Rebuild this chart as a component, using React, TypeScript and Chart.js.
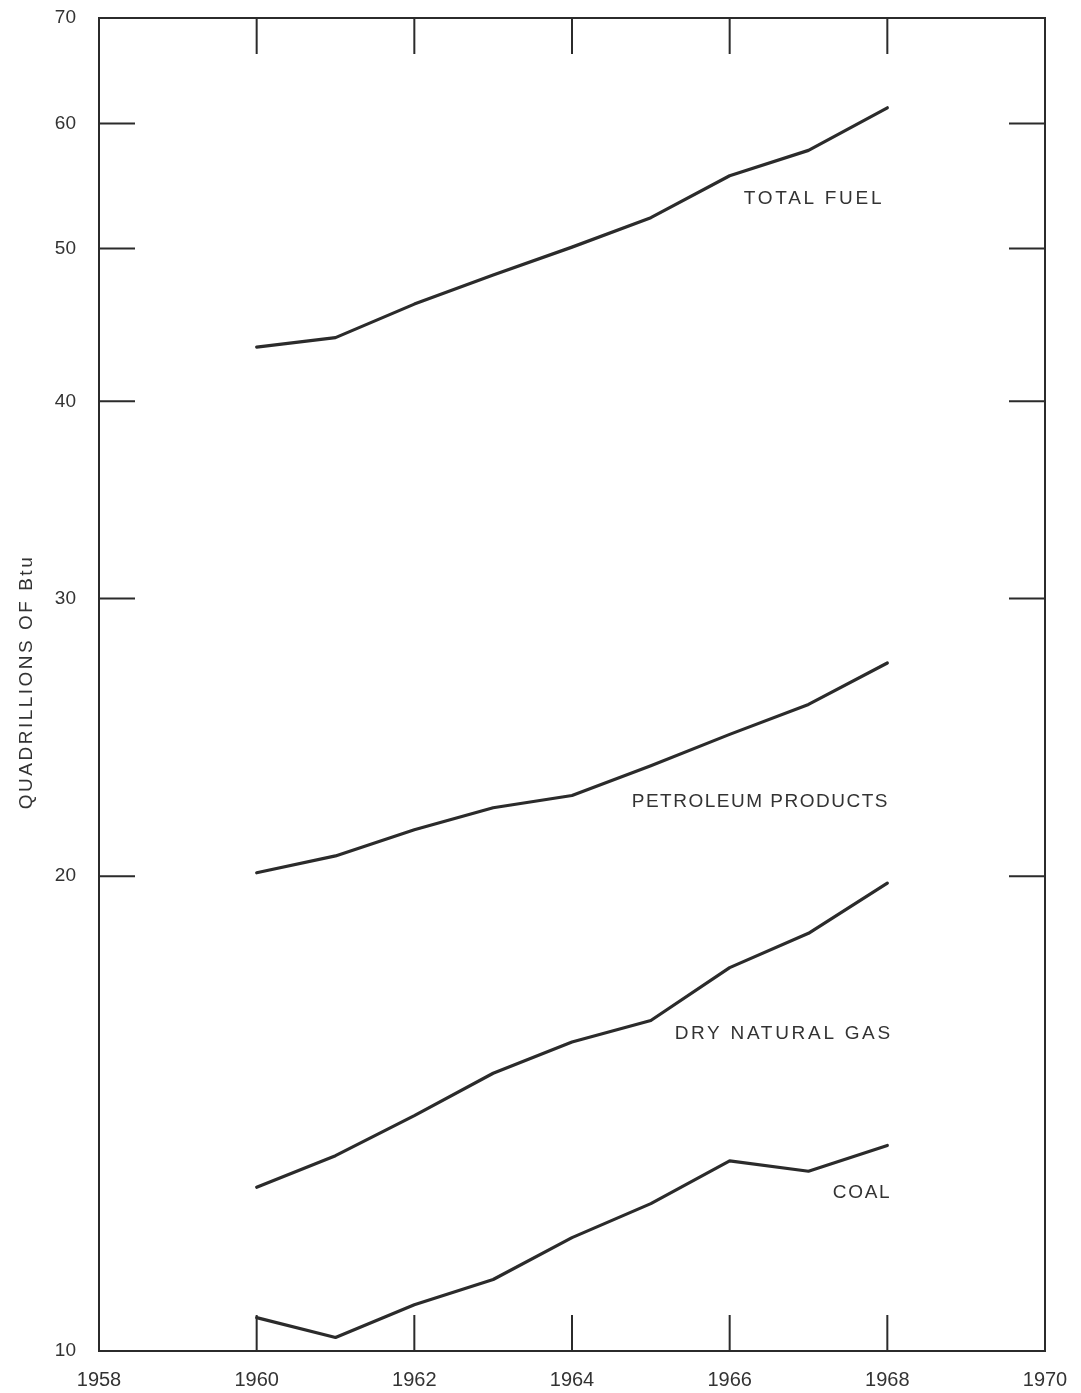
import React, { useEffect, useRef } from "react";
import { Chart, registerables } from "chart.js";

Chart.register(...registerables);

// ---- data ----
const years = [1960, 1961, 1962, 1963, 1964, 1965, 1966, 1967, 1968];
const totalFuel = [43.3, 43.9, 46.1, 48.1, 50.1, 52.3, 55.6, 57.7, 61.4];
const petroleum = [20.1, 20.6, 21.4, 22.1, 22.5, 23.5, 24.6, 25.7, 27.3];
const naturalGas = [12.7, 13.3, 14.1, 15.0, 15.7, 16.2, 17.5, 18.4, 19.8];
const coal = [10.5, 10.2, 10.7, 11.1, 11.8, 12.4, 13.2, 13.0, 13.5];

const seriesNames = ["TOTAL FUEL", "PETROLEUM PRODUCTS", "DRY NATURAL GAS", "COAL"];
const seriesLabelYear = [1967.96, 1968.02, 1968.07, 1968.05];
const seriesLabelValue = [53.8, 22.3, 15.9, 12.6];

const xTickLabels = [1958, 1960, 1962, 1964, 1966, 1968, 1970];
const xInnerTicks = [1960, 1962, 1964, 1966, 1968];
const yTickLabels = [10, 20, 30, 40, 50, 60, 70];
const yInnerTicks = [20, 30, 40, 50, 60];
const yTitle = "QUADRILLIONS OF Btu";

const INK = "#2b2b2b";
const TEXT = "#333333";
const FONT = '"Liberation Sans", Arial, Helvetica, sans-serif';
const labelSpacing = ["2.7px", "1.5px", "2.7px", "1.7px"];

const framePlugin = {
  id: "frameAndLabels",
  afterDraw(chart: any) {
    const { ctx, chartArea, scales } = chart;
    const { left, right, top, bottom } = chartArea;
    const x = scales.x;
    const y = scales.y;
    ctx.save();
    ctx.strokeStyle = INK;
    ctx.lineWidth = 2;
    ctx.strokeRect(left, top, right - left, bottom - top);
    const L = 36;
    ctx.beginPath();
    xInnerTicks.forEach((v) => {
      const px = x.getPixelForValue(v);
      ctx.moveTo(px, bottom);
      ctx.lineTo(px, bottom - L);
      ctx.moveTo(px, top);
      ctx.lineTo(px, top + L);
    });
    yInnerTicks.forEach((v) => {
      const py = y.getPixelForValue(v);
      ctx.moveTo(left, py);
      ctx.lineTo(left + L, py);
      ctx.moveTo(right, py);
      ctx.lineTo(right - L, py);
    });
    ctx.stroke();

    // series labels
    ctx.fillStyle = TEXT;
    ctx.font = `19px ${FONT}`;
    ctx.textAlign = "right";
    ctx.textBaseline = "middle";
    seriesNames.forEach((name, i) => {
      (ctx as any).letterSpacing = labelSpacing[i];
      const px = x.getPixelForValue(seriesLabelYear[i]);
      const py = y.getPixelForValue(seriesLabelValue[i]);
      ctx.fillText(name, px, py);
    });

    // y axis title
    (ctx as any).letterSpacing = "2.5px";
    ctx.translate(27, 682);
    ctx.rotate(-Math.PI / 2);
    ctx.textAlign = "center";
    ctx.fillText(yTitle, 0, 0);
    ctx.restore();
  },
};

export default function App() {
  const ref = useRef<HTMLCanvasElement | null>(null);

  useEffect(() => {
    document.body.style.margin = "0";
    const mk = (vals: number[]) => years.map((yr, i) => ({ x: yr, y: vals[i] }));
    const ds = (label: string, vals: number[]) => ({
      label,
      data: mk(vals),
      borderColor: INK,
      borderWidth: 3.2,
      pointRadius: 0,
      tension: 0,
      fill: false,
      borderJoinStyle: "round" as const,
      borderCapStyle: "round" as const,
    });
    const chart = new Chart(ref.current!, {
      type: "line",
      data: {
        datasets: [
          ds(seriesNames[0], totalFuel),
          ds(seriesNames[1], petroleum),
          ds(seriesNames[2], naturalGas),
          ds(seriesNames[3], coal),
        ],
      },
      options: {
        animation: false,
        responsive: true,
        maintainAspectRatio: false,
        layout: { padding: { top: 18, right: 36, left: 0, bottom: 0 } },
        plugins: { legend: { display: false }, tooltip: { enabled: false } },
        scales: {
          x: {
            type: "linear",
            min: 1958,
            max: 1970,
            grid: { display: false, drawTicks: false },
            border: { display: false },
            afterBuildTicks: (s: any) => {
              s.ticks = xTickLabels.map((v) => ({ value: v }));
            },
            afterFit: (s: any) => {
              s.height = 42;
              s.paddingLeft = 0;
              s.paddingRight = 0;
            },
            ticks: {
              autoSkip: false,
              maxRotation: 0,
              padding: 17,
              color: TEXT,
              font: { family: FONT, size: 20 },
              callback: (v: any) => String(v),
            },
          },
          y: {
            type: "logarithmic",
            min: 10,
            max: 70,
            grid: { display: false, drawTicks: false },
            border: { display: false },
            afterBuildTicks: (s: any) => {
              s.ticks = yTickLabels.map((v) => ({ value: v }));
            },
            afterFit: (s: any) => {
              s.width = 99;
              s.paddingTop = 0;
              s.paddingBottom = 0;
            },
            ticks: {
              autoSkip: false,
              padding: 23,
              color: TEXT,
              font: { family: FONT, size: 19 },
              callback: (v: any) => String(v),
            },
          },
        },
      },
      plugins: [framePlugin],
    });
    return () => chart.destroy();
  }, []);

  return (
    <div style={{ width: 1081, height: 1393, position: "relative", background: "#fff" }}>
      <canvas ref={ref} style={{ display: "block" }} />
    </div>
  );
}
